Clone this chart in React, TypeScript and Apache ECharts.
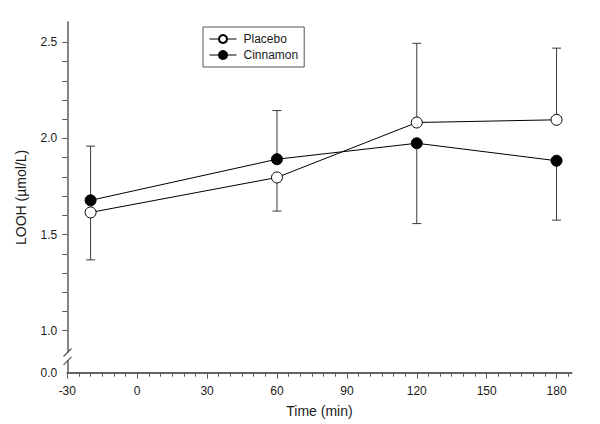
import React, { useEffect, useRef } from "react";
import * as echarts from "echarts";

const timePoints = [-20, 60, 120, 180];
const placeboMean = [1.615, 1.797, 2.083, 2.097];
const cinnamonMean = [1.678, 1.892, 1.975, 1.884];
const placeboBarEnd = [1.368, 1.622, 2.495, 2.47];
const cinnamonBarEnd = [1.96, 2.145, 1.557, 1.575];

const xTickLabels = [-30, 0, 30, 60, 90, 120, 150, 180];
const xMinorTicks = [-25, -20, -15, -10, -5, 5, 10, 15, 20, 25, 35, 40, 45, 50, 55, 65, 70, 75, 80, 85, 95, 100, 105, 110, 115, 125, 130, 135, 140, 145, 155, 160, 165, 170, 175, 185];
const yTickValues = [1.0, 1.1, 1.2, 1.3, 1.4, 1.5, 1.6, 1.7, 1.8, 1.9, 2.0, 2.1, 2.2, 2.3, 2.4, 2.5];
const Y_MIN = 0.781;
const Y_MAX = 2.606;
const yLabelValues = [Y_MIN, 1.0, 1.5, 2.0, 2.5];
const X_MIN = -30;
const X_MAX = 186.5;

const FONT = "Liberation Sans, Arial, sans-serif";
const AXIS_COLOR = "#5a5a5a";
const TEXT_COLOR = "#1a1a1a";
const ERR_COLOR = "#3a3a3a";

function errorSeries(name: string, means: number[], ends: number[]) {
  return {
    type: "custom",
    name,
    z: 1,
    silent: true,
    data: timePoints.map((t, i) => [t, means[i], ends[i]]),
    encode: { x: 0, y: [1, 2] },
    renderItem: (params: any, api: any) => {
      const p0 = api.coord([api.value(0), api.value(1)]);
      const p1 = api.coord([api.value(0), api.value(2)]);
      const hw = 4.5;
      return {
        type: "group",
        children: [
          {
            type: "line",
            shape: { x1: p0[0], y1: p0[1], x2: p1[0], y2: p1[1] },
            style: { stroke: ERR_COLOR, lineWidth: 1 },
          },
          {
            type: "line",
            shape: { x1: p1[0] - hw, y1: p1[1], x2: p1[0] + hw, y2: p1[1] },
            style: { stroke: ERR_COLOR, lineWidth: 1 },
          },
        ],
      };
    },
  };
}

export default function App() {
  const ref = useRef<HTMLDivElement>(null);
  useEffect(() => {
    if (!ref.current) return;
    const chart = echarts.init(ref.current, undefined, { renderer: "svg" });
    const option: any = {
      animation: false,
      backgroundColor: "#fff",
      textStyle: { fontFamily: FONT },
      grid: { left: 67.3, right: 28.3, top: 22, bottom: 51.3, outerBoundsMode: "none" },
      legend: {
        orient: "vertical",
        left: 203,
        top: 27,
        data: ["Placebo", "Cinnamon"],
        borderColor: "#555",
        borderWidth: 1,
        padding: [6, 6, 6, 6],
        itemGap: 4,
        itemWidth: 27,
        itemHeight: 10,
        lineStyle: { width: 1 },
        textStyle: { fontSize: 12, color: TEXT_COLOR, fontFamily: FONT, padding: [0, 0, 0, 2] },
      },
      xAxis: [
        {
          type: "value",
          min: X_MIN,
          max: X_MAX,
          position: "bottom",
          name: "Time (min)",
          nameLocation: "middle",
          nameGap: 31,
          nameTextStyle: { fontSize: 14, color: TEXT_COLOR, fontFamily: FONT },
          axisLine: { show: true, onZero: false, lineStyle: { color: AXIS_COLOR, width: 1.5 } },
          axisTick: { show: true, customValues: xTickLabels, length: 6, lineStyle: { color: AXIS_COLOR, width: 1 } },
          axisLabel: { customValues: xTickLabels, fontSize: 12, color: TEXT_COLOR, margin: 12, fontFamily: FONT },
          splitLine: { show: false },
        },
        {
          type: "value",
          min: X_MIN,
          max: X_MAX,
          position: "bottom",
          offset: 0,
          axisLine: { show: true, onZero: false, lineStyle: { color: AXIS_COLOR, width: 1.5 } },
          axisTick: { show: true, customValues: xMinorTicks, length: 4, lineStyle: { color: AXIS_COLOR, width: 1 } },
          axisLabel: { show: false },
          splitLine: { show: false },
        },
      ],
      yAxis: {
        type: "value",
        min: Y_MIN,
        max: Y_MAX,
        name: "LOOH (µmol/L)",
        nameLocation: "middle",
        nameGap: 39,
        nameTextStyle: { fontSize: 14, color: TEXT_COLOR, fontFamily: FONT },
        axisLine: { show: true, onZero: false, lineStyle: { color: AXIS_COLOR, width: 1.5 } },
        axisTick: { show: true, customValues: yTickValues, length: 5, lineStyle: { color: AXIS_COLOR, width: 1 } },
        axisLabel: {
          customValues: yLabelValues,
          fontSize: 12,
          color: TEXT_COLOR,
          margin: 10,
          fontFamily: FONT,
          formatter: (v: number) => (v < 0.9 ? "0.0" : v.toFixed(1)),
        },
        splitLine: { show: false },
      },
      graphic: [
        { type: "rect", z: 100, shape: { x: 63, y: 352.5, width: 9, height: 7.5 }, style: { fill: "#fff" } },
        { type: "line", z: 101, shape: { x1: 63.5, y1: 356.5, x2: 71.5, y2: 348.5 }, style: { stroke: AXIS_COLOR, lineWidth: 1.2 } },
        { type: "line", z: 101, shape: { x1: 63.5, y1: 364.8, x2: 71.5, y2: 356.8 }, style: { stroke: AXIS_COLOR, lineWidth: 1.2 } },
      ],
      series: [
        errorSeries("Placebo err", placeboMean, placeboBarEnd),
        errorSeries("Cinnamon err", cinnamonMean, cinnamonBarEnd),
        {
          type: "line",
          name: "Placebo",
          z: 3,
          data: timePoints.map((t, i) => [t, placeboMean[i]]),
          symbol: "circle",
          symbolSize: 11,
          lineStyle: { color: "#000", width: 1 },
          itemStyle: { color: "#fff", borderColor: "#000", borderWidth: 1 },
        },
        {
          type: "line",
          name: "Cinnamon",
          z: 4,
          data: timePoints.map((t, i) => [t, cinnamonMean[i]]),
          symbol: "circle",
          symbolSize: 11,
          lineStyle: { color: "#000", width: 1 },
          itemStyle: { color: "#000", borderColor: "#000", borderWidth: 1 },
        },
      ],
    };
    chart.setOption(option);
    return () => chart.dispose();
  }, []);
  return <div ref={ref} style={{ position: "fixed", left: 0, top: 0, width: 600, height: 424 }} />;
}
